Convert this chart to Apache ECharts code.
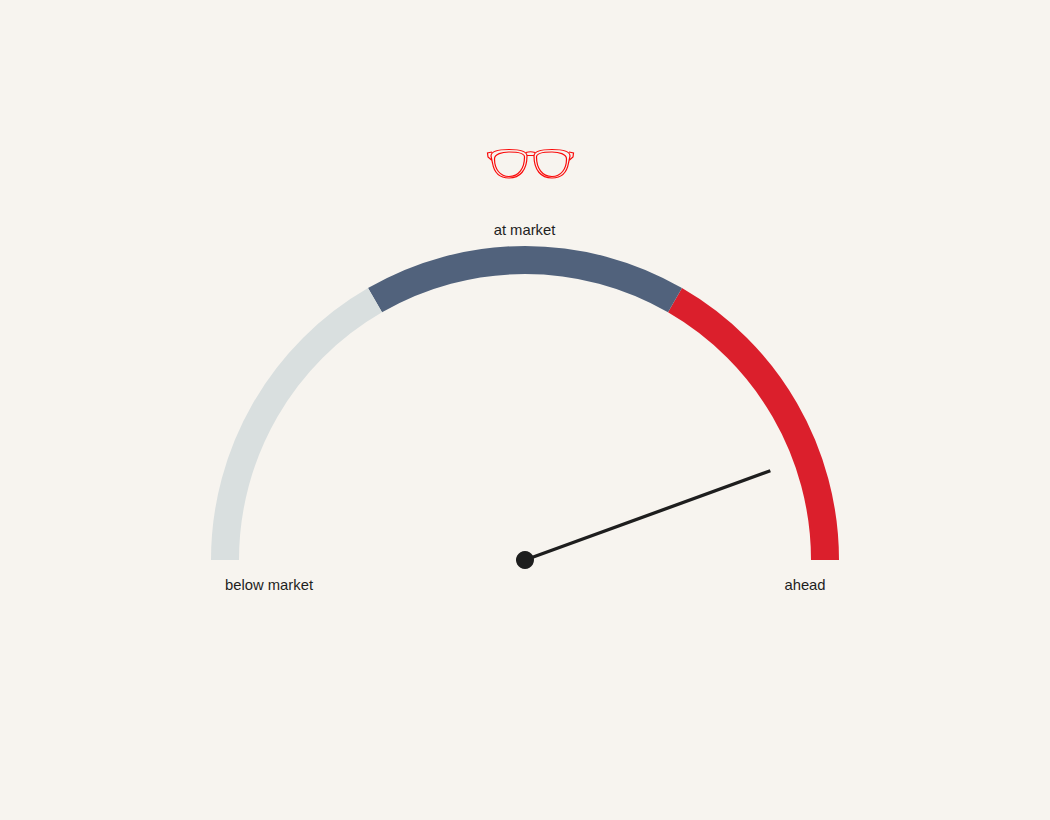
<!DOCTYPE html>
<html><head><meta charset="utf-8">
<style>html,body{margin:0;padding:0;background:#f7f4ef}#c{width:1050px;height:820px}</style>
<script src="https://cdn.jsdelivr.net/npm/echarts@6/dist/echarts.min.js"></script></head>
<body><div id="c"></div>
<script>
const gaugeValue = [88.9];
const bandStops = [1/3, 2/3, 1];
const bandColors = ['#d9dfdf', '#51627c', '#db1f2c'];
const labels = ['below market', 'at market', 'ahead'];
const ink = '#1e1e1e';
const glasses = [
 // outer rims, temples and bridge
 'M491 156 C491 151 500 149.5 509 149.5 C519 149.5 527 151 527 156 C527 170 520 178 509 178 C499 178 494 172 492.5 163 Z' +
 ' M570 156 C570 151 561 149.5 552 149.5 C542 149.5 534 151 534 156 C534 170 541 178 552 178 C562 178 567 172 568.5 163 Z' +
 ' M492 152 L487.5 153 L488 157 L491.5 160 M569 152 L573.5 153 L573 157 L569.5 160' +
 ' M526 152.5 C529 151.5 532 151.5 535 152.5 M527 155.5 L534 155.5' +
 // inner lenses
 ' M494.5 159 C494.5 154 502 152 509 152 C517 152 524.5 153 524.5 157 C524.5 168 519 176.5 509 176.5 C500 176.5 494.5 169 494.5 159 Z' +
 ' M566.5 159 C566.5 154 559 152 552 152 C544 152 536.5 153 536.5 157 C536.5 168 542 176.5 552 176.5 C561 176.5 566.5 169 566.5 159 Z'
];
const chart = echarts.init(document.getElementById('c'), null, {renderer:'svg'});
chart.setOption({
  backgroundColor:'#f7f4ef',
  animation:false,
  series:[{
    type:'gauge', center:[525,560], radius:314,
    startAngle:180, endAngle:0, min:0, max:100,
    axisLine:{lineStyle:{width:28, color:bandStops.map((s,i)=>[s,bandColors[i]])}},
    axisTick:{show:false}, splitLine:{show:false}, axisLabel:{show:false},
    pointer:{icon:'rect', length:261, width:3.3, itemStyle:{color:ink}},
    anchor:{show:true, showAbove:true, size:18, icon:'circle', itemStyle:{color:ink, borderWidth:0}},
    title:{show:false}, detail:{show:false},
    data:[{value:gaugeValue[0]}]
  },{
    type:'custom', coordinateSystem:'none', silent:true,
    data:glasses.map((d,i)=>i),
    renderItem:(params)=>{
      const d=glasses[params.dataIndex];
      const nums=d.match(/-?[\d.]+/g).map(Number);
      const xs=nums.filter((_,i)=>i%2==0), ys=nums.filter((_,i)=>i%2==1);
      const x0=Math.min(...xs), x1=Math.max(...xs), y0=Math.min(...ys), y1=Math.max(...ys);
      return {type:'path', shape:{pathData:d, layout:'cover', x:x0, y:y0, width:x1-x0, height:y1-y0},
        style:{fill:'none', stroke:'#fa0a0a', lineWidth:1.2}};
    }
  }],
  graphic:labels.map((t,i)=>({type:'text', x:[269,524.5,805][i], y:[585,230,585][i],
      style:{text:t, fill:ink, font:'14.8px "Liberation Sans", Arial, sans-serif', align:'center', verticalAlign:'middle'}}))
});
</script></body></html>
